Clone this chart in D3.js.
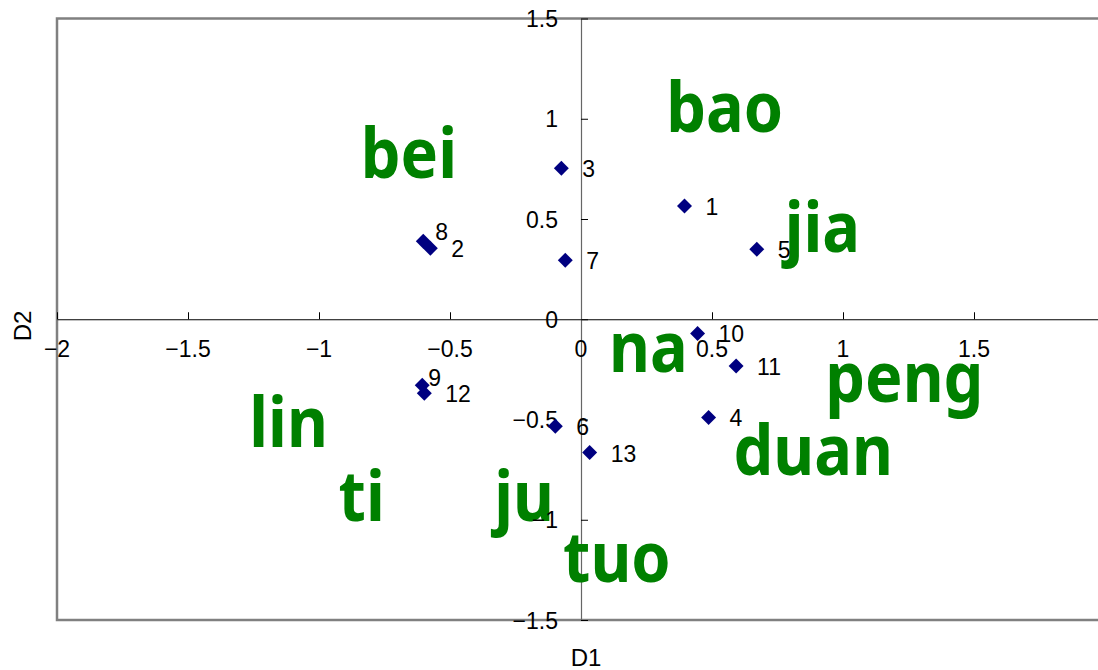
<!DOCTYPE html>
<html>
<head>
<meta charset="utf-8">
<script src="https://cdn.jsdelivr.net/npm/d3@7"></script>
<style>
  body { margin: 0; background: #fff; }
  svg { display: block; }
</style>
</head>
<body>
<script>
// sample points (D1, D2)
var pointIds = ['1', '2', '3', '4', '5', '6', '7', '8', '9', '10', '11', '12', '13'];
var pointX = [0.395, -0.575, -0.075, 0.487, 0.671, -0.098, -0.060, -0.602, -0.606, 0.445, 0.592, -0.598, 0.033];
var pointY = [0.565, 0.354, 0.753, -0.490, 0.349, -0.534, 0.294, 0.389, -0.329, -0.071, -0.233, -0.369, -0.665];

// variable words
var wordNames = ['bao', 'bei', 'jia', 'na', 'peng', 'lin', 'duan', 'ti', 'ju', 'tuo'];
var wordX = [0.548, -0.657, 0.921, 0.257, 1.234, -1.116, 0.886, -0.837, -0.217, 0.137];
var wordY = [0.933, 0.703, 0.336, -0.263, -0.412, -0.637, -0.778, -1.006, -1.006, -1.310];

// axis ticks
var xTicks = [-2, -1.5, -1, -0.5, 0, 0.5, 1, 1.5];
var yTicks = [-1.5, -1, -0.5, 0, 0.5, 1, 1.5];

var width = 1098, height = 670;
var plotLeft = 57, plotRight = 1105, plotTop = 18.5, plotBottom = 620;
var labelFont = '"Liberation Sans", Arial, sans-serif';

var x = d3.scaleLinear().domain([-2, 2]).range([plotLeft, plotRight]);
var y = d3.scaleLinear().domain([-1.5, 1.5]).range([plotBottom, plotTop]);

var svg = d3.select('body').append('svg')
  .attr('width', width).attr('height', height);

// plot frame
svg.append('rect')
  .attr('x', plotLeft).attr('y', plotTop)
  .attr('width', plotRight - plotLeft).attr('height', plotBottom - plotTop)
  .attr('fill', 'none').attr('stroke', '#808080').attr('stroke-width', 2.5);

// axes through the origin
var xAxis = d3.axisBottom(x).tickValues(xTicks)
  .tickSizeInner(-7).tickSizeOuter(0);
var yAxis = d3.axisLeft(y).tickValues(yTicks)
  .tickSizeInner(-7).tickSizeOuter(0);

var gx = svg.append('g').attr('transform', 'translate(0,' + y(0) + ')').call(xAxis);
var gy = svg.append('g').attr('transform', 'translate(' + x(0) + ',0)').call(yAxis);

[gx, gy].forEach(function (g) {
  g.select('.domain').attr('stroke', '#000').attr('stroke-width', 1.2);
  g.selectAll('.tick line').attr('stroke', '#000');
  g.selectAll('.tick text').remove();
});
gy.select('.domain').attr('stroke', '#666');

// words (under the tick labels), slightly narrowed to match the original face
svg.append('g').selectAll('text')
  .data(wordNames)
  .enter()
  .append('text')
  .attr('transform', function (d, i) {
    return 'translate(' + x(wordX[i]) + ',' + y(wordY[i]) + ') scale(0.9,1)';
  })
  .attr('text-anchor', 'middle')
  .attr('font-family', '"Noto Sans", "Open Sans", sans-serif')
  .attr('font-weight', 'bold')
  .attr('font-size', 70)
  .attr('fill', '#008000')
  .text(function (d) { return d; });

// tick labels drawn on top of the words
var fmt = d3.format('');
svg.append('g').selectAll('text')
  .data(xTicks)
  .enter()
  .append('text')
  .attr('x', function (d) { return x(d); })
  .attr('y', y(0) + 38)
  .attr('text-anchor', 'middle')
  .attr('font-family', labelFont)
  .attr('font-size', 23)
  .text(function (d) { return fmt(d); });

svg.append('g').selectAll('text')
  .data(yTicks)
  .enter()
  .append('text')
  .attr('x', x(0) - 23)
  .attr('y', function (d) { return y(d) + 8.5; })
  .attr('text-anchor', 'end')
  .attr('font-family', labelFont)
  .attr('font-size', 23)
  .text(function (d) { return fmt(d); });

// points
var diamond = d3.symbol().type(d3.symbolSquare).size(112);
svg.append('g').selectAll('path')
  .data(pointIds)
  .enter()
  .append('path')
  .attr('d', diamond)
  .attr('transform', function (d, i) {
    return 'translate(' + x(pointX[i]) + ',' + y(pointY[i]) + ') rotate(45)';
  })
  .attr('fill', '#000080');

// point labels, a couple nudged where they overlap
var nudge = { '8': [-9, -10], '9': [-15, -8] };
svg.append('g').selectAll('text')
  .data(pointIds)
  .enter()
  .append('text')
  .attr('x', function (d, i) { return x(pointX[i]) + 21 + (nudge[d] ? nudge[d][0] : 0); })
  .attr('y', function (d, i) { return y(pointY[i]) + 9 + (nudge[d] ? nudge[d][1] : 0); })
  .attr('font-family', labelFont)
  .attr('font-size', 23)
  .text(function (d) { return d; });

// axis titles
svg.append('text')
  .attr('x', 586).attr('y', 666)
  .attr('text-anchor', 'middle')
  .attr('font-family', labelFont)
  .attr('font-size', 24)
  .text('D1');

svg.append('text')
  .attr('transform', 'translate(31,326) rotate(-90)')
  .attr('text-anchor', 'middle')
  .attr('font-family', labelFont)
  .attr('font-size', 24)
  .text('D2');
</script>
</body>
</html>
